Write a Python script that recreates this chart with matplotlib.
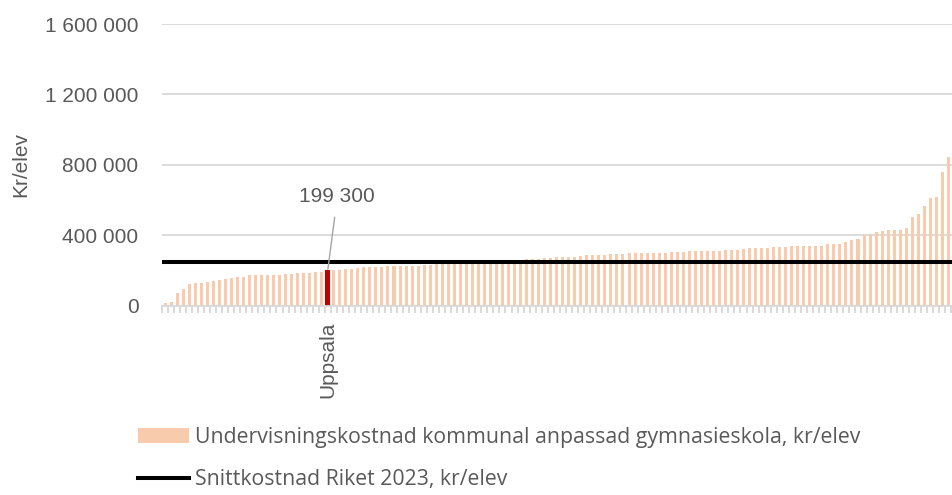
import matplotlib
matplotlib.use('Agg')
import matplotlib.pyplot as plt
from matplotlib.patches import Patch
from matplotlib.lines import Line2D

plt.rcParams['font.family'] = ['Liberation Sans', 'DejaVu Sans']

# Undervisningskostnad per kommun, sorterat stigande (kr/elev)
kostnad = [
    15000, 23000, 70000, 93000, 121000, 129000, 131000, 137000, 142000, 146000,
    150000, 156000, 163000, 165000, 173000, 173000, 174000, 176000, 177000, 177000,
    182000, 182000, 184000, 186000, 188000, 190000, 193000, 199300, 203000, 205000,
    209000, 211000, 214000, 218000, 218000, 220000, 220000, 224000, 226000, 226000,
    228000, 228000, 228000, 231000, 233000, 235000, 237000, 239000, 241000, 243000,
    244000, 246000, 248000, 250000, 251000, 253000, 255000, 257000, 259000, 261000,
    265000, 265000, 265000, 271000, 272000, 277000, 277000, 277000, 279000, 282000,
    286000, 286000, 288000, 288000, 292000, 294000, 296000, 298000, 298000, 298000,
    298000, 298000, 298000, 301000, 303000, 305000, 307000, 309000, 309000, 309000,
    311000, 313000, 313000, 315000, 316000, 318000, 322000, 326000, 326000, 328000,
    330000, 332000, 332000, 335000, 337000, 337000, 337000, 339000, 341000, 341000,
    349000, 351000, 352000, 364000, 375000, 377000, 404000, 407000, 421000, 426000,
    428000, 428000, 428000, 440000, 506000, 521000, 566000, 610000, 616000, 760000,
    847000,
]
uppsala_idx = 27
uppsala_namn = 'Uppsala'
snitt_riket = 248000
y_ticks = [0, 400000, 800000, 1200000, 1600000]

label_bar = 'Undervisningskostnad kommunal anpassad gymnasieskola, kr/elev'
label_line = 'Snittkostnad Riket 2023, kr/elev'

grey_text = '#595959'
grid_col = '#D9D9D9'
peach = '#F8CBAD'
red = '#C00000'

fig = plt.figure(figsize=(9.52, 4.95), dpi=100)
W, H = 952, 495
ax = fig.add_axes([162 / W, 1 - 305.7 / H, 790 / W, (305.7 - 24) / H])

n = len(kostnad)
x = list(range(n))
colors = [red if i == uppsala_idx else peach for i in x]
edge_w = [1.5 if i == uppsala_idx else 0 for i in x]
ax.bar(x, kostnad, width=0.5, color=colors, edgecolor=colors, linewidth=edge_w, zorder=2)
ax.axhline(snitt_riket, color='black', lw=2.9, zorder=3, solid_capstyle='round')

ax.set_xlim(-0.5, 130.6)
ax.set_ylim(0, 1600000)

ax.set_yticks(y_ticks)
ax.set_yticklabels([f'{v:,}'.replace(',', ' ') for v in y_ticks])
ax.yaxis.grid(True, color=grid_col, lw=1.3, zorder=0)
ax.set_axisbelow(True)
ax.tick_params(axis='y', length=0, pad=17, labelsize=15, labelcolor=grey_text)

ax.set_xticks([uppsala_idx])
ax.set_xticklabels([uppsala_namn], rotation=90, va='top', ha='center')
ax.set_xticks([i + 0.5 for i in range(-1, n)], minor=True)
ax.tick_params(axis='x', which='major', length=0, pad=11.5, labelsize=15, labelcolor=grey_text)
ax.tick_params(axis='x', which='minor', length=5, width=1.4, color=grid_col, direction='out')

for s in ['top', 'right', 'left']:
    ax.spines[s].set_visible(False)
ax.spines['bottom'].set_color(grid_col)
ax.spines['bottom'].set_linewidth(1.3)

ax.set_ylabel('Kr/elev', fontsize=15, color=grey_text)
ax.yaxis.set_label_coords(-0.167, 0.5)

ax.annotate('199 300', xy=(uppsala_idx, kostnad[uppsala_idx]), xytext=(28.6, 619000),
            ha='center', va='center', fontsize=15, color=grey_text,
            arrowprops=dict(arrowstyle='-', color='#A6A6A6', lw=1, shrinkA=6, shrinkB=1))

handles = [Patch(facecolor=peach, label=label_bar),
           Line2D([], [], color='black', lw=2.9, label=label_line)]
fig.legend(handles=handles, loc='upper left', bbox_to_anchor=(138 / W, 1 - 427 / H),
           frameon=False, prop={'family': ['Open Sans', 'DejaVu Sans'], 'size': 15.3},
           handlelength=2.4, handleheight=0.68, handletextpad=0.28, labelspacing=1.0,
           borderpad=0, borderaxespad=0, labelcolor=grey_text)

fig.savefig('out.png', dpi=100)
plt.close(fig)
